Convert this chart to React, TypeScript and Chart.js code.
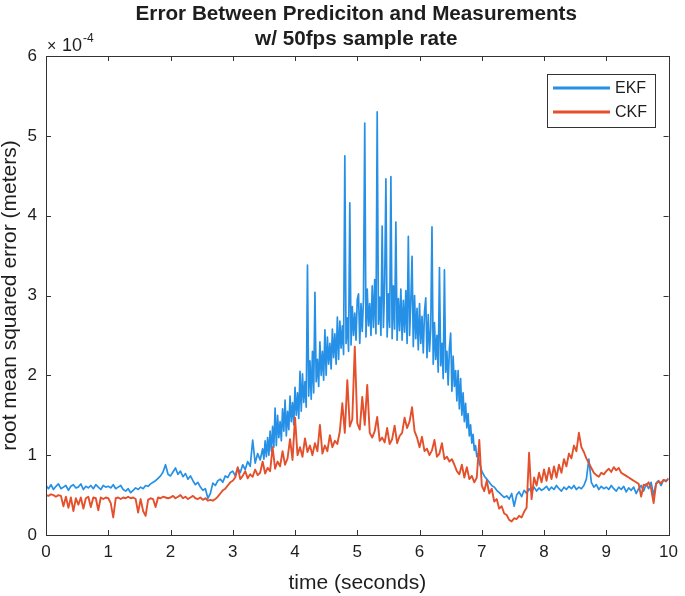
import { useEffect, useRef } from 'react';
import { Chart, registerables } from 'chart.js';

Chart.register(...registerables);

const TITLE_LINES = ['Error Between Prediciton and Measurements', 'w/ 50fps sample rate'];
const X_LABEL = 'time (seconds)';
const Y_LABEL = 'root mean squared error (meters)';
const SERIES_NAMES = ['EKF', 'CKF'];
const SERIES_COLORS = ['#2690e6', '#e4502b'];
const X_TICKS = [0, 1, 2, 3, 4, 5, 6, 7, 8, 9, 10];
const Y_TICKS = [0, 1, 2, 3, 4, 5, 6];
const Y_EXPONENT = ['\u00d7', '10', '-4'];

// values in units of 1e-4 m
// EKF, 0.00 s .. 3.48 s, every 0.04 s
const EKF_EARLY_START = 0;
const EKF_EARLY_STEP = 0.04;
const EKF_EARLY = [
  0.62, 0.58, 0.63, 0.57, 0.61, 0.64, 0.58, 0.60, 0.62, 0.56, 0.61, 0.63, 0.59, 0.60, 0.64, 0.57, 0.61, 0.59, 0.62, 0.58, 0.63, 0.60, 0.57, 0.62, 0.60,
  0.61, 0.59, 0.63, 0.58, 0.60, 0.62, 0.57, 0.55, 0.58, 0.53, 0.56, 0.59, 0.57, 0.60, 0.58, 0.62, 0.61, 0.64, 0.66, 0.68, 0.71, 0.74, 0.79, 0.88, 0.76,
  0.74, 0.79, 0.84, 0.76, 0.80, 0.73, 0.77, 0.70, 0.74, 0.68, 0.63, 0.66, 0.60, 0.56, 0.58, 0.46, 0.52, 0.65, 0.62, 0.68, 0.70, 0.66, 0.74, 0.72, 0.78,
  0.80, 0.74, 0.84, 0.78, 0.88, 0.82, 0.92, 0.86, 1.19, 0.90, 1.02, 0.94, 1.08,
];

// EKF, 3.50 s .. 6.98 s, every 0.02 s (dense noisy band)
const EKF_PEAK_START = 3.5;
const EKF_PEAK_STEP = 0.02;
const EKF_PEAK = [
  0.95, 1.18, 0.98, 1.22, 1.00, 1.30, 1.05, 1.36, 1.10, 1.59,
  1.12, 1.50, 1.22, 1.42, 1.18, 1.58, 1.30, 1.69, 1.24, 1.55,
  1.32, 1.74, 1.42, 1.66, 1.38, 1.85, 1.50, 1.78, 1.46, 2.05,
  1.55, 2.02, 1.66, 1.92, 1.60, 3.38, 1.74, 2.18, 1.70, 2.30,
  1.78, 3.04, 1.92, 2.20, 1.86, 2.42, 2.00, 2.30, 1.94, 2.57,
  2.00, 2.48, 2.14, 2.40, 2.08, 2.58, 2.22, 2.52, 2.14, 2.73,
  2.20, 2.68, 2.34, 2.62, 2.26, 4.75, 2.40, 2.72, 2.30, 4.16,
  2.38, 2.86, 2.50, 2.78, 2.44, 2.95, 3.02, 2.40, 2.90, 2.55,
  2.96, 5.16, 2.48, 3.08, 2.62, 2.90, 2.50, 3.12, 2.60, 3.20,
  2.52, 5.30, 2.64, 2.98, 2.50, 3.87, 2.60, 3.14, 4.46, 2.48,
  3.02, 2.60, 4.49, 2.46, 3.12, 2.58, 3.92, 2.44, 2.96, 2.56,
  3.08, 2.44, 2.94, 2.54, 3.06, 2.40, 3.74, 2.50, 2.92, 3.49,
  2.36, 3.00, 2.46, 2.84, 2.32, 2.90, 2.40, 2.74, 2.28, 2.80,
  2.97, 2.22, 2.76, 2.30, 2.58, 3.86, 2.14, 2.66, 2.20, 2.50,
  2.04, 3.35, 2.12, 2.40, 1.96, 3.32, 2.04, 2.30, 1.88, 2.34,
  2.53, 1.80, 2.24, 1.86, 2.06, 1.68, 2.06, 1.58, 1.96, 1.50,
  1.78, 1.42, 1.65, 1.34, 1.52, 1.24, 1.38, 1.15, 1.26, 1.06,
  1.12, 0.98, 1.02, 0.90, 0.86,
];

// EKF, 7.00 s .. 10.00 s, every 0.04 s
const EKF_LATE_START = 7;
const EKF_LATE_STEP = 0.04;
const EKF_LATE = [
  0.80, 0.74, 0.70, 0.66, 0.62, 0.60, 0.56, 0.53, 0.50, 0.47, 0.49, 0.45, 0.52, 0.36, 0.50, 0.54, 0.48, 0.56, 0.52, 0.58, 0.54, 0.60, 0.55, 0.59, 0.56,
  0.58, 0.61, 0.56, 0.60, 0.57, 0.62, 0.58, 0.55, 0.60, 0.57, 0.61, 0.58, 0.62, 0.57, 0.60, 0.58, 0.62, 0.70, 0.95, 0.66, 0.60, 0.63, 0.57, 0.61, 0.58,
  0.60, 0.57, 0.62, 0.58, 0.55, 0.60, 0.57, 0.61, 0.54, 0.59, 0.56, 0.60, 0.52, 0.58, 0.62, 0.55, 0.64, 0.58, 0.66, 0.50, 0.65, 0.68, 0.62, 0.69, 0.67,
  0.71,
];

// CKF, 0.00 s .. 10.00 s, every 0.04 s (one row per second)
const CKF_START = 0;
const CKF_STEP = 0.04;
const CKF = [
  0.50, 0.49, 0.51, 0.50, 0.48, 0.50, 0.49, 0.36, 0.48, 0.34, 0.47, 0.30, 0.46, 0.38, 0.47, 0.33, 0.46, 0.48, 0.35, 0.47, 0.46, 0.31, 0.47, 0.45, 0.47,
  0.46, 0.40, 0.22, 0.46, 0.47, 0.45, 0.47, 0.46, 0.48, 0.46, 0.47, 0.45, 0.28, 0.45, 0.30, 0.24, 0.44, 0.46, 0.45, 0.35, 0.47, 0.46, 0.48, 0.47, 0.46,
  0.47, 0.49, 0.46, 0.48, 0.50, 0.46, 0.48, 0.45, 0.47, 0.49, 0.46, 0.45, 0.47, 0.44, 0.46, 0.43, 0.44, 0.43, 0.45, 0.48, 0.52, 0.56, 0.58, 0.62, 0.66,
  0.68, 0.72, 0.85, 0.70, 0.74, 0.80, 0.71, 0.76, 0.73, 0.82, 0.75, 0.78, 0.92, 0.77, 0.84, 0.80, 1.10, 0.83, 0.92, 0.86, 1.05, 0.88, 0.96, 1.20, 0.94,
  1.47, 1.00, 1.10, 0.98, 1.21, 1.04, 1.12, 1.00, 1.15, 1.05, 1.38, 1.02, 1.12, 1.05, 1.25, 1.10, 1.18, 1.14, 1.30, 1.65, 1.28, 1.94, 1.36, 1.45, 2.36,
  1.40, 1.32, 1.73, 1.38, 1.88, 1.28, 1.22, 1.30, 1.48, 1.18, 1.22, 1.16, 1.34, 1.14, 1.20, 1.37, 1.15, 1.24, 1.28, 1.47, 1.34, 1.42, 1.60, 1.30, 1.22,
  1.10, 1.23, 1.05, 1.08, 1.00, 1.06, 1.19, 0.98, 1.02, 1.15, 0.95, 0.98, 0.92, 0.95, 0.88, 0.80, 0.76, 0.88, 0.72, 0.85, 0.70, 0.74, 0.66, 0.72, 1.19,
  0.62, 0.55, 0.68, 0.52, 0.58, 0.42, 0.45, 0.33, 0.36, 0.27, 0.25, 0.19, 0.17, 0.21, 0.20, 0.24, 0.22, 0.29, 0.34, 1.03, 0.45, 0.72, 0.62, 0.78, 0.66,
  0.82, 0.68, 0.84, 0.70, 0.86, 0.72, 0.88, 0.78, 0.95, 0.86, 1.02, 0.96, 1.12, 1.05, 1.28, 1.10, 1.04, 0.96, 0.90, 0.84, 0.78, 0.75, 0.73, 0.78, 0.76,
  0.80, 0.83, 0.79, 0.85, 0.81, 0.84, 0.78, 0.76, 0.74, 0.72, 0.70, 0.68, 0.66, 0.64, 0.48, 0.63, 0.62, 0.66, 0.58, 0.40, 0.64, 0.67, 0.65, 0.69, 0.68,
  0.70,
];

const FONT = '"Liberation Sans", Arial, Helvetica, sans-serif';
const AXIS_COLOR = '#333333';
const TEXT_COLOR = '#1e1e1e';

const toPoints = (vals: number[], start: number, step: number) =>
  vals.map((v, i) => ({ x: Math.round((start + i * step) * 100) / 100, y: v }));

const EKF_POINTS = [
  ...toPoints(EKF_EARLY, EKF_EARLY_START, EKF_EARLY_STEP),
  ...toPoints(EKF_PEAK, EKF_PEAK_START, EKF_PEAK_STEP),
  ...toPoints(EKF_LATE, EKF_LATE_START, EKF_LATE_STEP),
];
const CKF_POINTS = toPoints(CKF, CKF_START, CKF_STEP);

const decorPlugin = {
  id: 'matlabDecor',
  afterDraw(chart: any) {
    const { ctx, chartArea: a, scales } = chart;
    ctx.save();
    // axes box
    ctx.strokeStyle = AXIS_COLOR;
    ctx.lineWidth = 1;
    ctx.strokeRect(Math.round(a.left) + 0.5, Math.round(a.top) + 0.5, Math.round(a.right - a.left), Math.round(a.bottom - a.top));
    // inward ticks
    const L = 5;
    ctx.beginPath();
    X_TICKS.forEach((v) => {
      const px = Math.round(scales.x.getPixelForValue(v)) + 0.5;
      ctx.moveTo(px, a.bottom);
      ctx.lineTo(px, a.bottom - L);
      ctx.moveTo(px, a.top);
      ctx.lineTo(px, a.top + L);
    });
    Y_TICKS.forEach((v) => {
      const py = Math.round(scales.y.getPixelForValue(v)) + 0.5;
      ctx.moveTo(a.left, py);
      ctx.lineTo(a.left + L, py);
      ctx.moveTo(a.right, py);
      ctx.lineTo(a.right - L, py);
    });
    ctx.stroke();

    // title
    const cx = (a.left + a.right) / 2;
    ctx.fillStyle = TEXT_COLOR;
    ctx.textAlign = 'center';
    ctx.textBaseline = 'alphabetic';
    ctx.font = `bold 20.7px ${FONT}`;
    ctx.fillText(TITLE_LINES[0], cx - 1, 20);
    ctx.fillText(TITLE_LINES[1], cx - 1, 45);

    // exponent label
    ctx.textAlign = 'left';
    ctx.font = `16px ${FONT}`;
    ctx.fillText(Y_EXPONENT[0], a.left + 1, 51);
    ctx.font = `18px ${FONT}`;
    ctx.fillText(Y_EXPONENT[1], a.left + 16, 51);
    ctx.font = `12px ${FONT}`;
    ctx.fillText(Y_EXPONENT[2], a.left + 37, 42);

    // legend
    const lx = 547, ly = 74, lw = 108, lh = 53;
    ctx.fillStyle = '#ffffff';
    ctx.fillRect(lx, ly, lw, lh);
    ctx.strokeStyle = AXIS_COLOR;
    ctx.lineWidth = 1;
    ctx.strokeRect(lx + 0.5, ly + 0.5, lw, lh);
    chart.data.datasets.forEach((ds: any, i: number) => {
      const yy = ly + 14 + i * 24;
      ctx.strokeStyle = ds.borderColor;
      ctx.lineWidth = 3;
      ctx.beginPath();
      ctx.moveTo(lx + 6, yy);
      ctx.lineTo(lx + 63, yy);
      ctx.stroke();
      ctx.fillStyle = TEXT_COLOR;
      ctx.font = `16px ${FONT}`;
      ctx.textBaseline = 'middle';
      ctx.fillText(ds.label, lx + 68, yy + 1);
    });
    ctx.restore();
  },
};

export default function App() {
  const ref = useRef<HTMLCanvasElement>(null);
  useEffect(() => {
    if (!ref.current) return;
    const chart = new Chart(ref.current, {
      type: 'line',
      data: {
        datasets: [
          {
            label: SERIES_NAMES[0],
            data: EKF_POINTS,
            borderColor: SERIES_COLORS[0],
            borderWidth: 1.7,
            pointRadius: 0,
            borderJoinStyle: 'round',
            tension: 0,
            order: 1,
          },
          {
            label: SERIES_NAMES[1],
            data: CKF_POINTS,
            borderColor: SERIES_COLORS[1],
            borderWidth: 1.9,
            pointRadius: 0,
            borderJoinStyle: 'round',
            tension: 0,
            order: 0,
          },
        ],
      },
      options: {
        animation: false,
        responsive: false,
        devicePixelRatio: 1,
        layout: { padding: { top: 56, right: 13, left: 0, bottom: 0 } },
        plugins: { legend: { display: false }, tooltip: { enabled: false }, title: { display: false } },
        scales: {
          x: {
            type: 'linear',
            min: 0,
            max: 10,
            grid: { display: false, drawTicks: false },
            border: { display: false },
            afterBuildTicks: (s: any) => {
              s.ticks = X_TICKS.map((v) => ({ value: v }));
            },
            afterFit: (s: any) => {
              s.height = 61;
            },
            ticks: {
              autoSkip: false,
              maxRotation: 0,
              padding: 7,
              color: TEXT_COLOR,
              font: { family: FONT, size: 17 },
            },
            title: {
              display: true,
              text: X_LABEL,
              color: TEXT_COLOR,
              font: { family: FONT, size: 21, lineHeight: 1.1 },
              padding: { top: 0, bottom: 1 },
            },
          },
          y: {
            type: 'linear',
            min: 0,
            max: 6,
            grid: { display: false, drawTicks: false },
            border: { display: false },
            afterBuildTicks: (s: any) => {
              s.ticks = Y_TICKS.map((v) => ({ value: v }));
            },
            afterFit: (s: any) => {
              s.width = 46;
            },
            ticks: {
              padding: 9,
              color: TEXT_COLOR,
              font: { family: FONT, size: 17 },
            },
            title: {
              display: true,
              text: Y_LABEL,
              color: TEXT_COLOR,
              font: { family: FONT, size: 21, lineHeight: 1.0 },
              padding: { top: 0, bottom: 0 },
            },
          },
        },
      },
      plugins: [decorPlugin],
    } as any);
    return () => chart.destroy();
  }, []);
  return (
    <div style={{ position: 'fixed', left: 0, top: 0, width: 685, height: 596, background: '#ffffff' }}>
      <canvas ref={ref} width={685} height={596} style={{ display: 'block' }} />
    </div>
  );
}
